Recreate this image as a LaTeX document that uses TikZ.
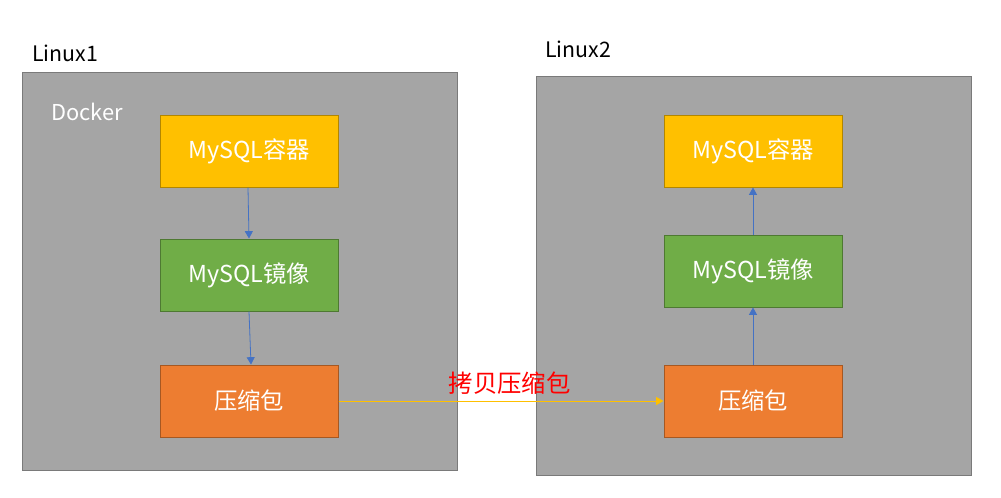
\documentclass[tikz,border=0pt]{standalone}
\usepackage{fontspec}
\setmainfont{Noto Sans CJK SC}
\usetikzlibrary{arrows.meta,positioning}
\definecolor{hostgray}{HTML}{A5A5A5}
\definecolor{hostline}{HTML}{7A7A7A}
\definecolor{boxyellow}{HTML}{FFC000}
\definecolor{boxgreen}{HTML}{70AD47}
\definecolor{boxorange}{HTML}{ED7D31}
\definecolor{flowblue}{HTML}{4472C4}
\begin{document}
\begin{tikzpicture}[
              x=0.75pt, y=-0.75pt,
              every node/.style={font=\fontsize{16}{19}\selectfont},
              host/.style={draw=hostline, fill=hostgray, line width=0.75pt},
              layer/.style={draw=#1!70!black, fill=#1, text=white, line width=0.75pt,
                            minimum width=133.5pt, minimum height=54pt, inner sep=0pt,
                            font=\fontsize{17.5}{20}\selectfont},
              flow/.style={draw=flowblue, line width=0.6pt, -{Triangle[width=6pt,length=5.5pt]}},
              copyline/.style={draw=boxyellow, line width=0.6pt, -{Triangle[width=6pt,length=5.5pt]}}
            ]
            \useasboundingbox[fill=white] (0,0) rectangle (1001,497);

            % hosts
            \draw[host] (22,72) rectangle (457,470);
            \draw[host] (536,76) rectangle (971,475);
            \node[anchor=west, inner sep=0pt] (L1) at (32,53) {Linux1};
            \node[anchor=west, inner sep=0pt] (L2) at (545,49) {Linux2};
            \node[anchor=west, inner sep=0pt, text=white, font=\fontsize{16.4}{19}\selectfont] (D) at (51,112) {Docker};

            % Linux1: container -> image -> archive
            \node[layer=boxyellow] (C1) at (249,151) {MySQL容器};
            \node[layer=boxgreen]  (I1) at (249,275) {MySQL镜像};
            \node[layer=boxorange] (Z1) at (249,401) {压缩包};

            % Linux2: archive -> image -> container
            \node[layer=boxyellow] (C2) at (753,151) {MySQL容器};
            \node[layer=boxgreen]  (I2) at (753,271) {MySQL镜像};
            \node[layer=boxorange] (Z2) at (753,401) {压缩包};

            \draw[flow] ([xshift=-0.75pt]C1.south) -- (I1.north);
            \draw[flow] (I1.south) -- ([xshift=1.5pt]Z1.north);
            \draw[flow] (Z2) -- (I2);
            \draw[flow] (I2) -- (C2);

            % copy across hosts
            \draw[copyline] (Z1) -- (Z2)
              node[midway, above=1pt, xshift=6.5pt, text=red, font=\fontsize{18.3}{20}\selectfont] (T) {拷贝压缩包};

            \end{tikzpicture}
\end{document}
